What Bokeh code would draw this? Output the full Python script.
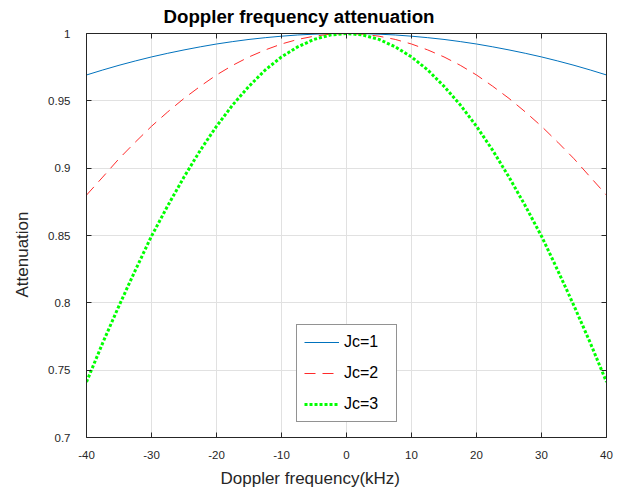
from bokeh.plotting import figure
from bokeh.models import LinearAxis, Title, Legend, LegendItem, FixedTicker, Range1d
from bokeh.embed import file_html
from bokeh.resources import INLINE

# Doppler frequency (kHz)
freq = [-40, -37.5, -35, -32.5, -30, -27.5, -25, -22.5, -20, -17.5, -15, -12.5, -10, -7.5, -5, -2.5,
        0, 2.5, 5, 7.5, 10, 12.5, 15, 17.5, 20, 22.5, 25, 27.5, 30, 32.5, 35, 37.5, 40]

att_jc1 = [0.9692, 0.9729, 0.9764, 0.9796, 0.9826, 0.9853, 0.9878, 0.9901, 0.9922, 0.9940, 0.9956,
           0.9969, 0.9980, 0.9989, 0.9995, 0.9999, 1.0000, 0.9999, 0.9995, 0.9989, 0.9980, 0.9969,
           0.9956, 0.9940, 0.9922, 0.9901, 0.9878, 0.9853, 0.9826, 0.9796, 0.9764, 0.9729, 0.9692]

att_jc2 = [0.8800, 0.8934, 0.9070, 0.9193, 0.9311, 0.9418, 0.9518, 0.9608, 0.9692, 0.9764, 0.9826,
           0.9878, 0.9922, 0.9956, 0.9980, 0.9995, 1.0000, 0.9995, 0.9980, 0.9956, 0.9922, 0.9878,
           0.9826, 0.9764, 0.9692, 0.9608, 0.9518, 0.9418, 0.9311, 0.9193, 0.9070, 0.8934, 0.8800]

att_jc3 = [0.7412, 0.7703, 0.7978, 0.8241, 0.8495, 0.8721, 0.8934, 0.9132, 0.9311, 0.9470, 0.9608,
           0.9729, 0.9826, 0.9901, 0.9956, 0.9989, 1.0000, 0.9989, 0.9956, 0.9901, 0.9826, 0.9729,
           0.9608, 0.9470, 0.9311, 0.9132, 0.8934, 0.8721, 0.8495, 0.8241, 0.7978, 0.7703, 0.7412]

series_labels = ["Jc=1", "Jc=2", "Jc=3"]
x_ticks = [-40, -30, -20, -10, 0, 10, 20, 30, 40]
x_tick_labels = ["-40", "-30", "-20", "-10", "0", "10", "20", "30", "40"]
y_ticks = [0.7, 0.75, 0.8, 0.85, 0.9, 0.95, 1.0]
y_tick_labels = ["0.7", "0.75", "0.8", "0.85", "0.9", "0.95", "1"]

FONT = "Liberation Sans"
AXC = "#262626"

p = figure(width=619, height=495, x_range=Range1d(-40, 40), y_range=Range1d(0.7, 1.0),
           output_backend="svg", toolbar_location=None,
           x_axis_location=None, y_axis_location=None,
           min_border_left=86, min_border_right=13, min_border_top=33, min_border_bottom=58)

p.outline_line_color = None
p.background_fill_color = "white"
p.border_fill_color = "white"


def style_axis(ax):
    ax.axis_line_color = AXC
    ax.axis_line_width = 1
    ax.major_tick_in = 5
    ax.major_tick_out = 0
    ax.major_tick_line_color = AXC
    ax.minor_tick_line_color = None
    ax.major_label_text_font = FONT
    ax.major_label_text_color = AXC
    ax.major_label_text_font_size = "11.5px"


xb = LinearAxis(ticker=FixedTicker(ticks=x_ticks))
style_axis(xb)
xb.major_label_standoff = 13
xb.major_label_overrides = {t: s for t, s in zip(x_ticks, x_tick_labels)}
p.add_layout(xb, "below")

xt = LinearAxis(ticker=FixedTicker(ticks=x_ticks))
style_axis(xt)
xt.major_label_standoff = 0
xt.major_label_overrides = {t: "" for t in x_ticks}
p.add_layout(xt, "above")

yl = LinearAxis(ticker=FixedTicker(ticks=y_ticks))
style_axis(yl)
yl.major_label_standoff = 16
yl.major_label_overrides = {t: s for t, s in zip(y_ticks, y_tick_labels)}
p.add_layout(yl, "left")

yr = LinearAxis(ticker=FixedTicker(ticks=y_ticks))
style_axis(yr)
yr.major_label_standoff = 0
yr.major_label_overrides = {t: "" for t in y_ticks}
p.add_layout(yr, "right")

p.xgrid.ticker = FixedTicker(ticks=x_ticks)
p.ygrid.ticker = FixedTicker(ticks=y_ticks)
for g in (p.xgrid, p.ygrid):
    g.grid_line_color = "#e1e1e1"
    g.grid_line_width = 1

r1 = p.line(freq, att_jc1, line_color="#0072bd", line_width=1)
r2 = p.line(freq, att_jc2, line_color="#ff2a2a", line_width=1, line_dash="11 7")
r3 = p.line(freq, att_jc3, line_color="#00ff00", line_width=3, line_dash="3 2")

legend = Legend(items=[LegendItem(label=series_labels[0], renderers=[r1]),
                       LegendItem(label=series_labels[1], renderers=[r2]),
                       LegendItem(label=series_labels[2], renderers=[r3])],
                location=(210, 15))
legend.glyph_width = 35
legend.glyph_height = 20
legend.label_height = 20
legend.label_width = 45
legend.label_standoff = 5
legend.padding = 7
legend.spacing = 11
legend.margin = 0
legend.label_text_font = FONT
legend.label_text_font_size = "16px"
legend.label_text_color = "#000000"
legend.border_line_color = AXC
legend.border_line_width = 1
legend.background_fill_color = "white"
legend.background_fill_alpha = 1
p.add_layout(legend, "center")

p.title.text = "Doppler frequency attenuation"
p.title.text_font = FONT
p.title.text_font_size = "18.7px"
p.title.text_font_style = "bold"
p.title.text_color = "#000000"
p.title.align = "left"
p.title.offset = 77
p.title.vertical_align = "top"
p.title.standoff = 9

xlabel = Title(text="Doppler frequency(kHz)", align="left", offset=134,
               text_font=FONT, text_font_size="17px", text_font_style="normal",
               text_color=AXC, standoff=10)
p.add_layout(xlabel, "below")

ylabel = Title(text="Attenuation", align="left", offset=140, vertical_align="top",
               text_font=FONT, text_font_size="17px", text_font_style="normal",
               text_color=AXC, standoff=24)
p.add_layout(ylabel, "left")

open("out.html", "w").write(file_html(p, INLINE))
